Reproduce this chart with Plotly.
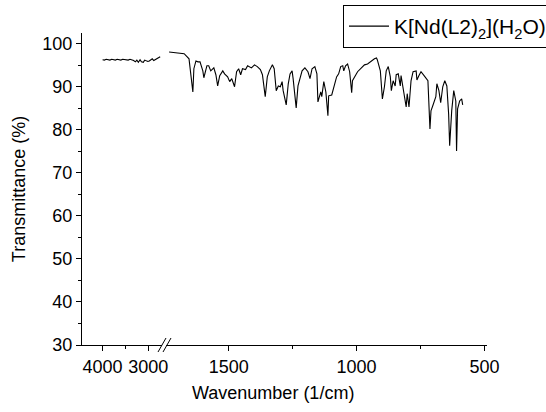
import plotly.graph_objects as go

# ---- data ----
# high-wavenumber segment (left of the axis break)
wn_high = [4000, 3960, 3920, 3880, 3840, 3800, 3760, 3720, 3680, 3640, 3600, 3560,
           3520, 3480, 3440, 3400, 3360, 3320, 3283, 3250, 3217, 3180, 3150, 3109,
           3080, 3043, 3010, 2978, 2950, 2913, 2880, 2848, 2810, 2783, 2740]
t_high = [96.3, 96.2, 96.4, 96.3, 96.2, 96.4, 96.3, 96.2, 96.4, 96.3, 96.2, 96.4,
          96.3, 96.3, 96.2, 96.4, 96.3, 96.1, 95.8, 96.2, 95.7, 96.3, 95.8, 95.7,
          96.2, 96.0, 95.9, 96.0, 96.2, 96.5, 96.1, 96.3, 96.6, 96.8, 97.0]

# fingerprint segment (right of the axis break)
wn_fp = [1733, 1705, 1674, 1655, 1647, 1640, 1636, 1628, 1620, 1612, 1601, 1597,
         1585, 1578, 1570, 1558, 1550, 1543, 1535, 1523, 1516, 1504, 1496, 1488,
         1481, 1477, 1469, 1461, 1453, 1446, 1434, 1426, 1411, 1399, 1388, 1376,
         1368, 1360, 1357, 1349, 1341, 1329, 1322, 1314, 1306, 1298, 1291, 1287,
         1275, 1267, 1260, 1252, 1248, 1236, 1229, 1213, 1202, 1190, 1182, 1174,
         1163, 1155, 1151, 1140, 1136, 1128, 1120, 1112, 1109, 1097, 1089, 1078,
         1070, 1062, 1054, 1050, 1043, 1035, 1027, 1019, 1016, 1008, 996, 981,
         969, 957, 942, 930, 922, 919, 907, 899, 891, 884, 876, 868,
         864, 857, 849, 845, 837, 829, 826, 818, 806, 802, 795, 787,
         779, 767, 764, 756, 748, 736, 729, 721, 713, 709, 702, 690,
         686, 678, 671, 663, 655, 647, 640, 636, 628, 620, 612, 609,
         605, 597, 589, 585]
t_fp = [98.1, 97.9, 97.7, 96.5, 93.0, 88.8, 94.2, 96.0, 95.8, 95.8, 93.7, 92.1,
        94.9, 94.9, 93.7, 94.4, 92.8, 90.2, 92.6, 93.7, 93.0, 92.3, 91.2, 91.9,
        90.7, 90.0, 93.5, 94.2, 92.8, 94.2, 94.0, 94.9, 94.4, 95.1, 94.7, 94.0,
        92.8, 89.5, 87.7, 92.3, 93.7, 95.1, 94.2, 89.1, 90.2, 90.0, 91.2, 89.1,
        85.8, 90.7, 93.0, 93.7, 91.9, 85.1, 90.2, 93.7, 94.4, 93.5, 91.9, 94.2,
        94.7, 93.0, 86.5, 88.8, 87.7, 91.2, 88.8, 83.3, 87.9, 88.1, 90.2, 92.3,
        93.0, 94.7, 94.9, 93.7, 94.9, 95.3, 93.5, 88.6, 91.4, 92.3, 93.5, 94.4,
        95.1, 95.3, 96.0, 96.5, 96.7, 96.3, 93.7, 87.2, 90.0, 93.7, 94.7, 92.3,
        89.1, 91.4, 90.2, 92.8, 93.0, 90.2, 92.6, 90.0, 85.3, 88.4, 85.3, 91.4,
        93.5, 93.7, 91.6, 92.6, 93.5, 92.6, 91.9, 91.4, 80.2, 84.4, 85.6, 87.7,
        90.7, 89.1, 86.3, 90.0, 91.4, 90.2, 83.7, 76.3, 84.4, 89.1, 86.7, 75.1,
        84.9, 86.7, 87.2, 85.8]

series_name = "K[Nd(L2)<sub>2</sub>](H<sub>2</sub>O)"

x1_range = [4450, 2700]
x2_range = [1745, 490]
x1_ticks = [4000, 3000]
x1_minor = [3500]
x2_ticks = [1500, 1000, 500]
x2_minor = [1250, 750]
y_ticks = [30, 40, 50, 60, 70, 80, 90, 100]

FONT = "Liberation Sans, Arial, sans-serif"
TICK_SIZE = 18
TITLE_SIZE = 18
line_style = dict(color="black", width=1.1)

fig = go.Figure()
fig.add_trace(go.Scatter(x=wn_high, y=t_high, mode="lines", line=line_style,
                         xaxis="x", yaxis="y", showlegend=False, name=series_name))
fig.add_trace(go.Scatter(x=wn_fp, y=t_fp, mode="lines", line=line_style,
                         xaxis="x2", yaxis="y", showlegend=True, name=series_name))

W, H = 546, 412
L, R, T, B = 82, 59, 33, 67
pw = W - L - R
ph = H - T - B
d1 = 80 / pw
d2 = 84 / pw

common_x = dict(showline=True, linecolor="black", linewidth=1, showgrid=False,
                zeroline=False, ticks="outside", ticklen=5, tickwidth=1,
                tickcolor="black", tickangle=0,
                tickfont=dict(family=FONT, size=TICK_SIZE, color="black"),
                anchor="y")

fig.update_layout(
    width=W, height=H,
    margin=dict(l=L, r=R, t=T, b=B, autoexpand=False),
    paper_bgcolor="white", plot_bgcolor="white",
    font=dict(family=FONT, size=TICK_SIZE, color="black"),
    xaxis=dict(domain=[0, d1], range=x1_range, tickmode="array", tickvals=x1_ticks,
               minor=dict(tickmode="array", tickvals=x1_minor, ticks="outside",
                          ticklen=3, tickcolor="black"),
               **common_x),
    xaxis2=dict(domain=[d2, 1], range=x2_range, tickmode="array", tickvals=x2_ticks,
                minor=dict(tickmode="array", tickvals=x2_minor, ticks="outside",
                           ticklen=3, tickcolor="black"),
                **common_x),
    yaxis=dict(range=[30, 102.5], tickmode="array", tickvals=y_ticks,
               showline=True, linecolor="black", linewidth=1, showgrid=False,
               zeroline=False, ticks="outside", ticklen=5, tickcolor="black",
               minor=dict(dtick=5, ticks="outside", ticklen=3, tickcolor="black"),
               tickfont=dict(family=FONT, size=TICK_SIZE, color="black"),
               title=dict(text="Transmittance (%)",
                          font=dict(family=FONT, size=TITLE_SIZE), standoff=12),
               anchor="x"),
    legend=dict(x=(343 - L) / pw, y=(345 - 5) / ph,
                xanchor="left", yanchor="top", bordercolor="black", borderwidth=1,
                bgcolor="white", font=dict(family=FONT, size=21, color="black"),
                itemwidth=40),
    annotations=[dict(text="Wavenumber (1/cm)", xref="paper", yref="paper",
                      x=(273 - L) / pw, y=-(393 - 345) / ph,
                      xanchor="center", yanchor="middle", showarrow=False,
                      font=dict(family=FONT, size=TITLE_SIZE, color="black"))],
)

# axis-break marks "//"
def px(xp):
    return (xp - L) / pw
def py(yp):
    return (345 - yp) / ph
shapes = []
for x0 in (158, 163):
    shapes.append(dict(type="line", xref="paper", yref="paper",
                       x0=px(x0), y0=py(352), x1=px(x0 + 8), y1=py(338),
                       line=dict(color="black", width=1)))
fig.update_layout(shapes=shapes)

fig.write_html("out.html")
